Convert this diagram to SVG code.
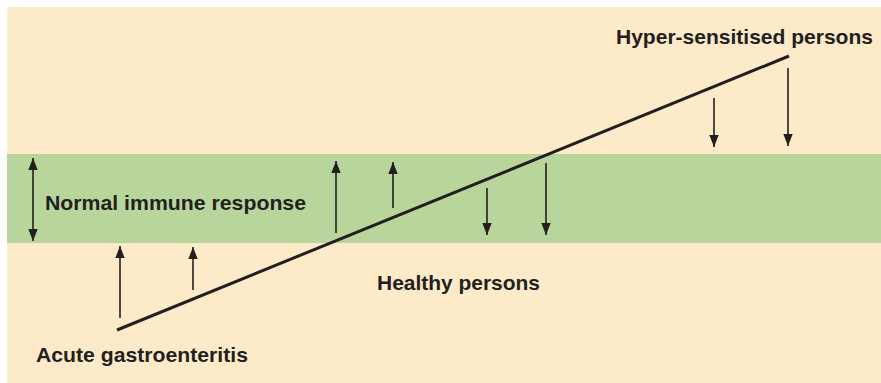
<svg xmlns="http://www.w3.org/2000/svg" width="881" height="383" viewBox="0 0 881 383">
  <style>
    .lbl { font-family: "Liberation Sans", Arial, sans-serif; font-weight: bold; font-size: 21px; fill: #231f20; }
    .arr { stroke: #231f20; stroke-width: 1.6; fill: none; }
    .trend { stroke: #231f20; stroke-width: 3; fill: none; }
  </style>
  <defs>
    <marker id="ah" viewBox="0 0 12 10" refX="12" refY="5" markerWidth="12" markerHeight="10" markerUnits="userSpaceOnUse" orient="auto-start-reverse">
      <path d="M0,0.3 L12,5 L0,9.7 Z" fill="#231f20"/>
    </marker>
  </defs>
  <rect width="881" height="383" fill="#ffffff"/>
  <g id="background">
    <rect x="7" y="7" width="874" height="376" fill="#fdeac8"/>
    <rect x="7" y="154" width="874" height="89" fill="#b8d69c"/>
  </g>
  <g id="connectors">
    <line class="trend" x1="117" y1="330" x2="789" y2="56"/>
    <line class="arr" x1="33" y1="158" x2="33" y2="241" marker-start="url(#ah)" marker-end="url(#ah)"/>
    <line class="arr" x1="120" y1="318" x2="120" y2="246" marker-end="url(#ah)"/>
    <line class="arr" x1="193" y1="290" x2="193" y2="247" marker-end="url(#ah)"/>
    <line class="arr" x1="336" y1="233" x2="336" y2="161" marker-end="url(#ah)"/>
    <line class="arr" x1="393" y1="208" x2="393" y2="162" marker-end="url(#ah)"/>
    <line class="arr" x1="487" y1="188" x2="487" y2="235" marker-end="url(#ah)"/>
    <line class="arr" x1="546" y1="163" x2="546" y2="235" marker-end="url(#ah)"/>
    <line class="arr" x1="714" y1="98" x2="714" y2="147" marker-end="url(#ah)"/>
    <line class="arr" x1="788" y1="68" x2="788" y2="146" marker-end="url(#ah)"/>
  </g>
  <g id="normal-immune-response">
    <text class="lbl" x="45" y="210" textLength="261" lengthAdjust="spacingAndGlyphs">Normal immune response</text>
  </g>
  <g id="acute-gastroenteritis">
    <text class="lbl" x="36" y="362" textLength="212" lengthAdjust="spacingAndGlyphs">Acute gastroenteritis</text>
  </g>
  <g id="hyper-sensitised-persons">
    <text class="lbl" x="616" y="44" textLength="257" lengthAdjust="spacingAndGlyphs">Hyper-sensitised persons</text>
  </g>
  <g id="healthy-persons">
    <text class="lbl" x="377" y="290" textLength="163" lengthAdjust="spacingAndGlyphs">Healthy persons</text>
  </g>
</svg>
